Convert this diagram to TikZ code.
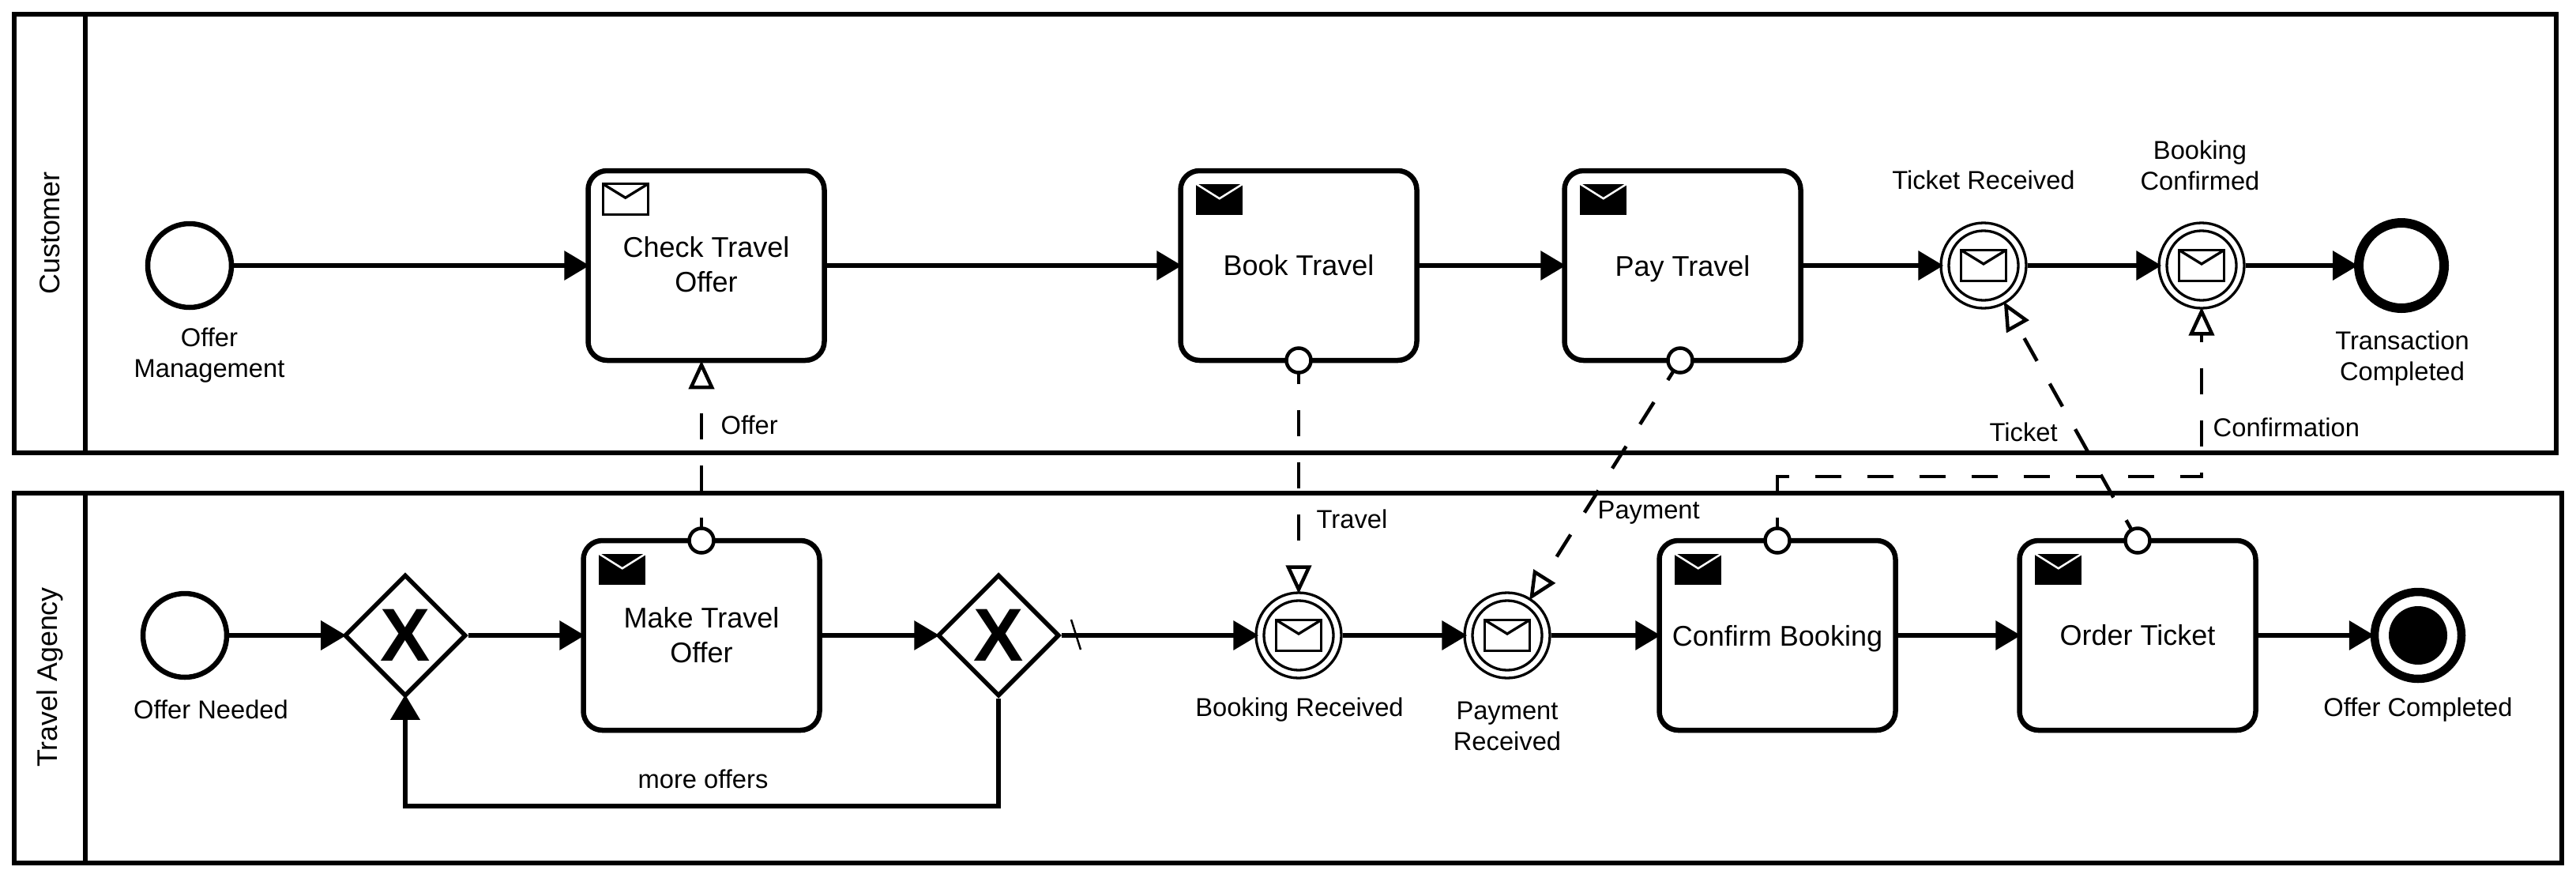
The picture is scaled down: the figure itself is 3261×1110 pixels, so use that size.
\documentclass[tikz,border=0pt]{standalone}
\usepackage{fontspec}
\setmainfont{Liberation Sans}
\usetikzlibrary{arrows.meta,positioning,backgrounds,calc,shapes.geometric}

\begin{document}
\begin{tikzpicture}[x=0.1mm, y=-0.1mm,
	  pool/.style={draw, line width=0.6mm, outer sep=0pt},
	  poolname/.style={rotate=90, font=\fontsize{10.2}{13}\selectfont},
	  task/.style={draw, fill=white, line width=0.65mm, rounded corners=2.4mm, minimum width=29.9mm, minimum height=24mm, align=center, inner sep=0pt, font=\fontsize{10.25}{12.5}\selectfont},
	  startev/.style={draw, circle, fill=white, line width=0.65mm, minimum size=10.6mm, inner sep=0pt},
	  catchev/.style={draw, circle, fill=white, line width=0.33mm, minimum size=10.8mm, inner sep=0pt},
	  ringline/.style={line width=0.33mm},
	  gateway/.style={draw, diamond, aspect=1, fill=white, line width=0.55mm, minimum size=15.4mm, inner sep=0pt, font=\fontsize{27}{27}\selectfont\bfseries},
	  port/.style={draw, circle, fill=white, line width=0.45mm, minimum size=3.1mm, inner sep=0pt},
	  txt/.style={align=center, inner sep=0pt, font=\fontsize{9.3}{11.1}\selectfont},
	  seqflow/.style={line width=0.65mm, shorten >=-0.5mm, -{Triangle[length=3.2mm,width=3.6mm]}},
	  msgflow/.style={line width=0.45mm, shorten >=-0.3mm, dash pattern=on 3.3mm off 3.3mm, dash phase=0.35mm, -{Triangle[fill=white,length=3.6mm,width=3.2mm]}},
	  mailopen/.pic={\draw[line width=0.33mm] (-28.5,-19.5) rectangle (28.5,19.5); \draw[line width=0.33mm] (-28.5,-19.5) -- (0,-2) -- (28.5,-19.5);},
	  mailfull/.pic={\fill (-29.5,-19.5) rectangle (29.5,19.5); \draw[white, line width=0.25mm] (-29.5,-19.5) -- (0,-1) -- (29.5,-19.5);}]
	  \useasboundingbox (0,0) rectangle (3261,1110);
	  % pools
	  \node[pool, minimum width=321.8mm, minimum height=55.5mm] (customer) at (1627,295.5) {};
	  \node[pool, minimum width=322.5mm, minimum height=46.8mm] (agency) at (1630.5,858) {};
	  \draw[line width=0.55mm] (customer.north west -| 108,0) -- (customer.south west -| 108,0);
	  \draw[line width=0.55mm] (agency.north west -| 108,0) -- (agency.south west -| 108,0);
	  \node[poolname] (customername) at (63,295) {Customer};
	  \node[poolname] (agencyname) at (63,857) {Travel Agency};
	  % customer row
	  \node[startev] (offermgmt) at (240,336) {};
	  \node[task, text depth=0.4mm] (checktask) at (894,336) {Check Travel\\Offer}; \pic at ($(checktask.north west)+(50.5,39.5)$) {mailopen};
	  \node[task] (booktask) at (1644,336) {Book Travel}; \pic at ($(booktask.north west)+(52.5,39.5)$) {mailfull};
	  \node[task, text depth=0pt] (paytask) at (2130,336) {Pay Travel}; \pic at ($(paytask.north west)+(52.5,39.5)$) {mailfull};
	  \node[catchev] (ticketrecv) at (2511,336) {}; \draw[ringline] (ticketrecv) circle (44); \pic at (ticketrecv) {mailopen};
	  \node[catchev] (confirmrecv) at (2787,336) {}; \draw[ringline] (confirmrecv) circle (44); \pic at (confirmrecv) {mailopen};
	  \node[draw, circle, fill=white, line width=1.2mm, minimum size=10.8mm, inner sep=0pt] (transdone) at (3040,336) {};
	  % agency row
	  \node[startev] (offerneeded) at (234,804) {};
	  \node[gateway] (gwjoin) at (513,804) {X};
	  \node[task] (maketask) at (888,804) {Make Travel\\Offer}; \pic at ($(maketask.north west)+(52.5,39.5)$) {mailfull};
	  \node[gateway] (gwsplit) at (1264,804) {X};
	  \node[catchev] (bookrecv) at (1644,804) {}; \draw[ringline] (bookrecv) circle (44); \pic at (bookrecv) {mailopen};
	  \node[catchev] (payrecv) at (1908,804) {}; \draw[ringline] (payrecv) circle (44); \pic at (payrecv) {mailopen};
	  \node[task, text depth=0pt] (confirmtask) at (2250,804) {Confirm Booking}; \pic at ($(confirmtask.north west)+(52.5,39.5)$) {mailfull};
	  \node[task] (ordertask) at (2706,804) {Order Ticket}; \pic at ($(ordertask.north west)+(52.5,39.5)$) {mailfull};
	  \node[draw, circle, fill=white, line width=1.05mm, minimum size=11mm, inner sep=0pt] (offerdone) at (3061,804) {};
	  \node[circle, fill=black, minimum size=7.4mm, inner sep=0pt] (offerdonedisk) at (offerdone) {};
	  % ports
	  \node[port] (bookport) at (1644,456) {};
	  \node[port] (payport) at (2127,456) {};
	  \node[port] (makeport) at (888,684) {};
	  \node[port] (confirmport) at (2250,684) {};
	  \node[port] (orderport) at (2706,684) {};
	  % sequence flows
	  \draw[seqflow] (offermgmt) -- (checktask); \draw[seqflow] (checktask) -- (booktask); \draw[seqflow] (booktask) -- (paytask);
	  \draw[seqflow] (paytask) -- (ticketrecv); \draw[seqflow] (ticketrecv) -- (confirmrecv); \draw[seqflow] (confirmrecv) -- (transdone);
	  \draw[seqflow] (offerneeded) -- (gwjoin); \draw[seqflow] (gwjoin) -- (maketask); \draw[seqflow] (maketask) -- (gwsplit);
	  \draw[seqflow] (gwsplit) -- (bookrecv); \draw[seqflow] (bookrecv) -- (payrecv); \draw[seqflow] (payrecv) -- (confirmtask);
	  \draw[seqflow] (confirmtask) -- (ordertask); \draw[seqflow] (ordertask) -- (offerdone);
	  \coordinate (loopcorner) at (513,1020);
	  \draw[seqflow] (gwsplit.south) |- (loopcorner) -- (gwjoin.south);
	  \draw[line width=0.25mm] (1356,784) -- (1368,822);
	  % message flows
	  \begin{scope}[on background layer]
	    \coordinate (confirmbend) at (2787,603);
	    \draw[msgflow] (makeport.center) -- (makeport |- checktask.south);
	    \draw[msgflow] (bookport.center) -- (bookrecv);
	    \draw[msgflow] (payport.center) -- (payrecv);
	    \draw[msgflow] (orderport.center) -- (ticketrecv);
	    \draw[msgflow] (confirmport.center) |- (confirmbend) -- (confirmrecv);
	  \end{scope}
	  % labels
	  \node[txt] (offermgmtlabel) at (265,450) {Offer\\Management};
	  \node[txt] (ticketlabel) at (2511,228) {Ticket Received};
	  \node[txt] (confirmlabel) at (2785,209) {Booking\\Confirmed};
	  \node[txt] (translabel) at (3041,454) {Transaction\\Completed};
	  \node[txt] (neededlabel) at (267,898) {Offer Needed};
	  \node[txt] (bookedlabel) at (1645,898) {Booking Received};
	  \node[txt] (paidlabel) at (1908,919) {Payment\\Received};
	  \node[txt] (donelabel) at (3061,898) {Offer Completed};
	  \node[txt] (morelabel) at (890,986) {more offers};
	  \node[txt, anchor=west] (offermsg) at (912,538) {Offer};
	  \node[txt, anchor=west] (travelmsg) at (1666,657) {Travel};
	  \node[txt, anchor=west] (paymsg) at (2022,649) {Payment};
	  \node[txt, anchor=west] (ticketmsg) at (2518,547) {Ticket};
	  \node[txt, anchor=west] (confirmmsg) at (2801,541) {Confirmation};
	\end{tikzpicture}
\end{document}
